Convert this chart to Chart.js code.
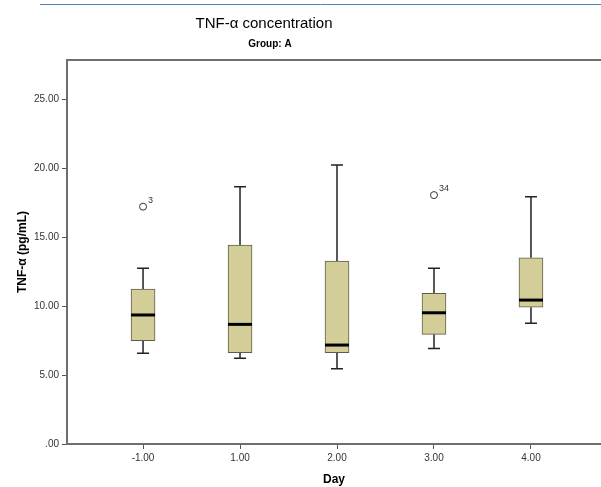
<!DOCTYPE html>
<html>
<head>
<meta charset="utf-8">
<script src="https://cdn.jsdelivr.net/npm/chart.js@4.4.1/dist/chart.umd.min.js"></script>
<style>
  body { margin: 0; background: #fff; overflow: hidden; }
  #wrap { width: 601px; height: 487px; position: relative; }
</style>
</head>
<body>
<div id="wrap"><canvas id="myChart"></canvas></div>
<script>
// Day categories and box statistics (pg/mL)
const categories = ['-1.00', '1.00', '2.00', '3.00', '4.00'];
const whiskerLow = [6.57, 6.21, 5.46, 6.93, 8.75];
const q1 = [7.49, 6.62, 6.62, 7.95, 9.91];
const median = [9.35, 8.67, 7.17, 9.51, 10.43];
const q3 = [11.23, 14.42, 13.26, 10.92, 13.50];
const whiskerHigh = [12.73, 18.64, 20.22, 12.73, 17.92];

// outliers: category index, value, case id
const outlierCat = [0, 3];
const outlierVal = [17.20, 18.04];
const outlierId = ['3', '34'];

const yTicks = [0, 5, 10, 15, 20, 25];

const FONT = '"Liberation Sans", Arial, sans-serif';

const boxPlugin = {
    id: 'boxParts',
    beforeDatasetsDraw(chart) {
        const ctx = chart.ctx, x = chart.scales.x, y = chart.scales.y;
        ctx.save();
        ctx.strokeStyle = '#222';
        ctx.lineWidth = 1.5;
        categories.forEach((c, i) => {
            const px = x.getPixelForValue(i);
            const segs = [[q3[i], whiskerHigh[i]], [q1[i], whiskerLow[i]]];
            segs.forEach(s => {
                const y0 = y.getPixelForValue(s[0]), y1 = y.getPixelForValue(s[1]);
                ctx.beginPath();
                ctx.moveTo(px, y0); ctx.lineTo(px, y1);
                ctx.moveTo(px - 6, y1); ctx.lineTo(px + 6, y1);
                ctx.stroke();
            });
        });
        ctx.restore();
    },
    afterDatasetsDraw(chart) {
        const ctx = chart.ctx, x = chart.scales.x, y = chart.scales.y;
        ctx.save();
        ctx.strokeStyle = '#000';
        ctx.lineWidth = 3;
        categories.forEach((c, i) => {
            const px = x.getPixelForValue(i);
            const py = y.getPixelForValue(median[i]);
            ctx.beginPath();
            ctx.moveTo(px - 12, py); ctx.lineTo(px + 12, py);
            ctx.stroke();
        });
        ctx.fillStyle = '#333';
        ctx.font = '9px ' + FONT;
        ctx.textAlign = 'left';
        ctx.textBaseline = 'alphabetic';
        outlierId.forEach((id, k) => {
            const px = x.getPixelForValue(outlierCat[k]);
            const py = y.getPixelForValue(outlierVal[k]);
            ctx.fillText(id, px + 5, py - 4);
        });
        ctx.restore();
    },
    afterDraw(chart) {
        const ctx = chart.ctx, a = chart.chartArea;
        ctx.save();
        // top frame line
        ctx.strokeStyle = '#6e6e6e';
        ctx.lineWidth = 2;
        ctx.beginPath();
        ctx.moveTo(a.left - 1, a.top); ctx.lineTo(chart.width, a.top);
        ctx.stroke();
        // header rule
        ctx.strokeStyle = '#4f81bd';
        ctx.lineWidth = 1;
        ctx.beginPath();
        ctx.moveTo(40, 4.5); ctx.lineTo(chart.width, 4.5);
        ctx.stroke();
        // titles
        ctx.fillStyle = '#000';
        ctx.textAlign = 'center';
        ctx.textBaseline = 'middle';
        ctx.font = '15px ' + FONT;
        ctx.fillText('TNF-\u03b1 concentration', a.left + 197, 24);
        ctx.font = 'bold 10px ' + FONT;
        ctx.fillText('Group: A', a.left + 203, 44);
        ctx.restore();
    }
};

const ctx = document.getElementById('myChart').getContext('2d');
const chart = new Chart(ctx, {
    data: {
        datasets: [{
            type: 'bar',
            data: categories.map((c, i) => ({ x: i, y: [q1[i], q3[i]] })),
            backgroundColor: '#d3ce97',
            borderColor: '#5e5e50',
            borderWidth: 1,
            borderSkipped: false,
            barThickness: 24
        }, {
            type: 'scatter',
            data: outlierCat.map((c, k) => ({ x: c, y: outlierVal[k] })),
            pointRadius: 3.5,
            pointBackgroundColor: '#fff',
            pointBorderColor: '#333',
            pointBorderWidth: 1
        }]
    },
    options: {
        responsive: true,
        maintainAspectRatio: false,
        animation: false,
        layout: { autoPadding: false, padding: { top: 60, left: 0, right: 0, bottom: 0 } },
        plugins: {
            legend: { display: false },
            tooltip: { enabled: false }
        },
        scales: {
            x: {
                type: 'linear',
                offset: false,
                min: -0.784,
                max: 4.722,
                afterBuildTicks: s => { s.ticks = categories.map((c, i) => ({ value: i })); },
                afterFit: s => { s.height = 43; s.paddingRight = 0; s.paddingLeft = 0; },
                ticks: {
                    autoSkip: false,
                    maxRotation: 0,
                    padding: 3,
                    color: '#333',
                    font: { family: FONT, size: 10 },
                    callback: v => categories[v]
                },
                grid: { offset: false, drawOnChartArea: false, drawTicks: true, tickLength: 5, color: '#555' },
                border: { display: true, color: '#6e6e6e', width: 2 },
                title: {
                    display: true, text: 'Day', color: '#000',
                    font: { family: FONT, size: 12, weight: 'bold' },
                    padding: { top: 0, bottom: 0 }
                }
            },
            y: {
                min: 0,
                max: 27.83,
                afterBuildTicks: s => { s.ticks = yTicks.map(v => ({ value: v })); },
                afterFit: s => { s.width = 67; },
                ticks: {
                    padding: 3,
                    color: '#333',
                    font: { family: FONT, size: 10 },
                    callback: v => v === 0 ? '.00' : v.toFixed(2)
                },
                grid: { drawOnChartArea: false, drawTicks: true, tickLength: 5, color: '#555' },
                border: { display: true, color: '#6e6e6e', width: 2 },
                title: {
                    display: true, text: 'TNF-\u03b1 (pg/mL)', color: '#000',
                    font: { family: FONT, size: 12, weight: 'bold' },
                    padding: { top: 15, bottom: 0 }
                }
            }
        }
    },
    plugins: [boxPlugin]
});
</script>
</body>
</html>
